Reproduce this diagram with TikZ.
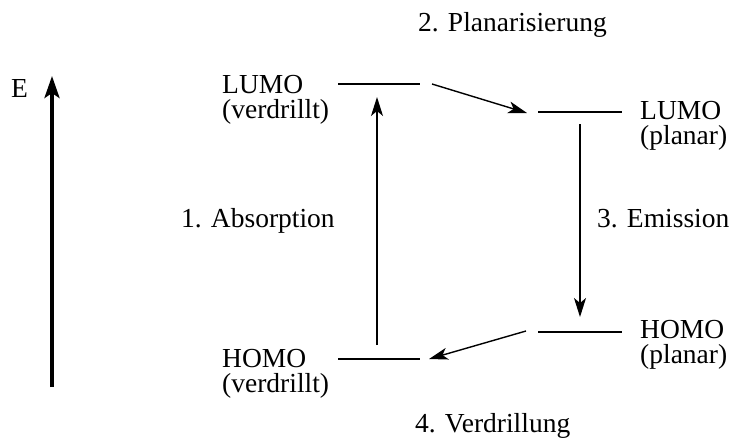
\documentclass[tikz,border=0pt]{standalone}
\usepackage{fontspec}
\setmainfont{Liberation Serif}
\usetikzlibrary{arrows.meta}
\begin{document}
\begin{tikzpicture}[x=1pt,y=-1pt,
  txt/.style={inner sep=0pt,anchor=base west,font=\fontsize{27.5}{30}\selectfont},
  pair/.style={inner sep=0pt,anchor=base west,align=left,font=\fontsize{27.5}{25}\selectfont},
  level/.style={line width=1.4pt},
  conn/.style={line width=1.4pt,-{Stealth[length=19pt,width=12pt,inset=5pt]}},
  axis/.style={line width=3.8pt,-{Stealth[length=22pt,width=15pt,inset=5pt]}}]
\useasboundingbox (0,0) rectangle (730,437);
% level coordinates
\coordinate (lvL) at (338,84);  \coordinate (lvR) at (420,84);
\coordinate (hvL) at (338,359); \coordinate (hvR) at (420,359);
\coordinate (lpL) at (538,112); \coordinate (lpR) at (622,112);
\coordinate (hpL) at (538,332); \coordinate (hpR) at (622,332);
\draw[level] (lvL) -- (lvR);
\draw[level] (hvL) -- (hvR);
\draw[level] (lpL) -- (lpR);
\draw[level] (hpL) -- (hpR);
% connector ends
\coordinate (a1s) at (377,345); \coordinate (a1e) at (377,97);
\coordinate (a2s) at (432,84);  \coordinate (a2e) at (527,113);
\coordinate (a3s) at (580,124); \coordinate (a3e) at (580,317);
\coordinate (a4s) at (526,331); \coordinate (a4e) at (429,359);
\coordinate (es) at (52,387);   \coordinate (ee) at (52,76);
\draw[conn] (a1s) -- (a1e);
\draw[conn] (a2s) -- (a2e);
\draw[conn] (a3s) -- (a3e);
\draw[conn] (a4s) -- (a4e);
\draw[axis] (es) -- (ee);
% texts
\node[txt] (E) at (11,97) {E};
\node[pair] (lv) at (222,118) {LUMO\\(verdrillt)};
\node[pair] (hv) at (222,392) {HOMO\\(verdrillt)};
\node[pair] (lp) at (640,144) {LUMO\\(planar)};
\node[pair] (hp) at (640,363) {HOMO\\(planar)};
\node[txt] (s1) at (181,227) {1. Absorption};
\node[txt] (s2) at (418,31) {2. Planarisierung};
\node[txt] (s3) at (597,227) {3. Emission};
\node[txt] (s4) at (415,432) {4. Verdrillung};
\end{tikzpicture}
\end{document}
